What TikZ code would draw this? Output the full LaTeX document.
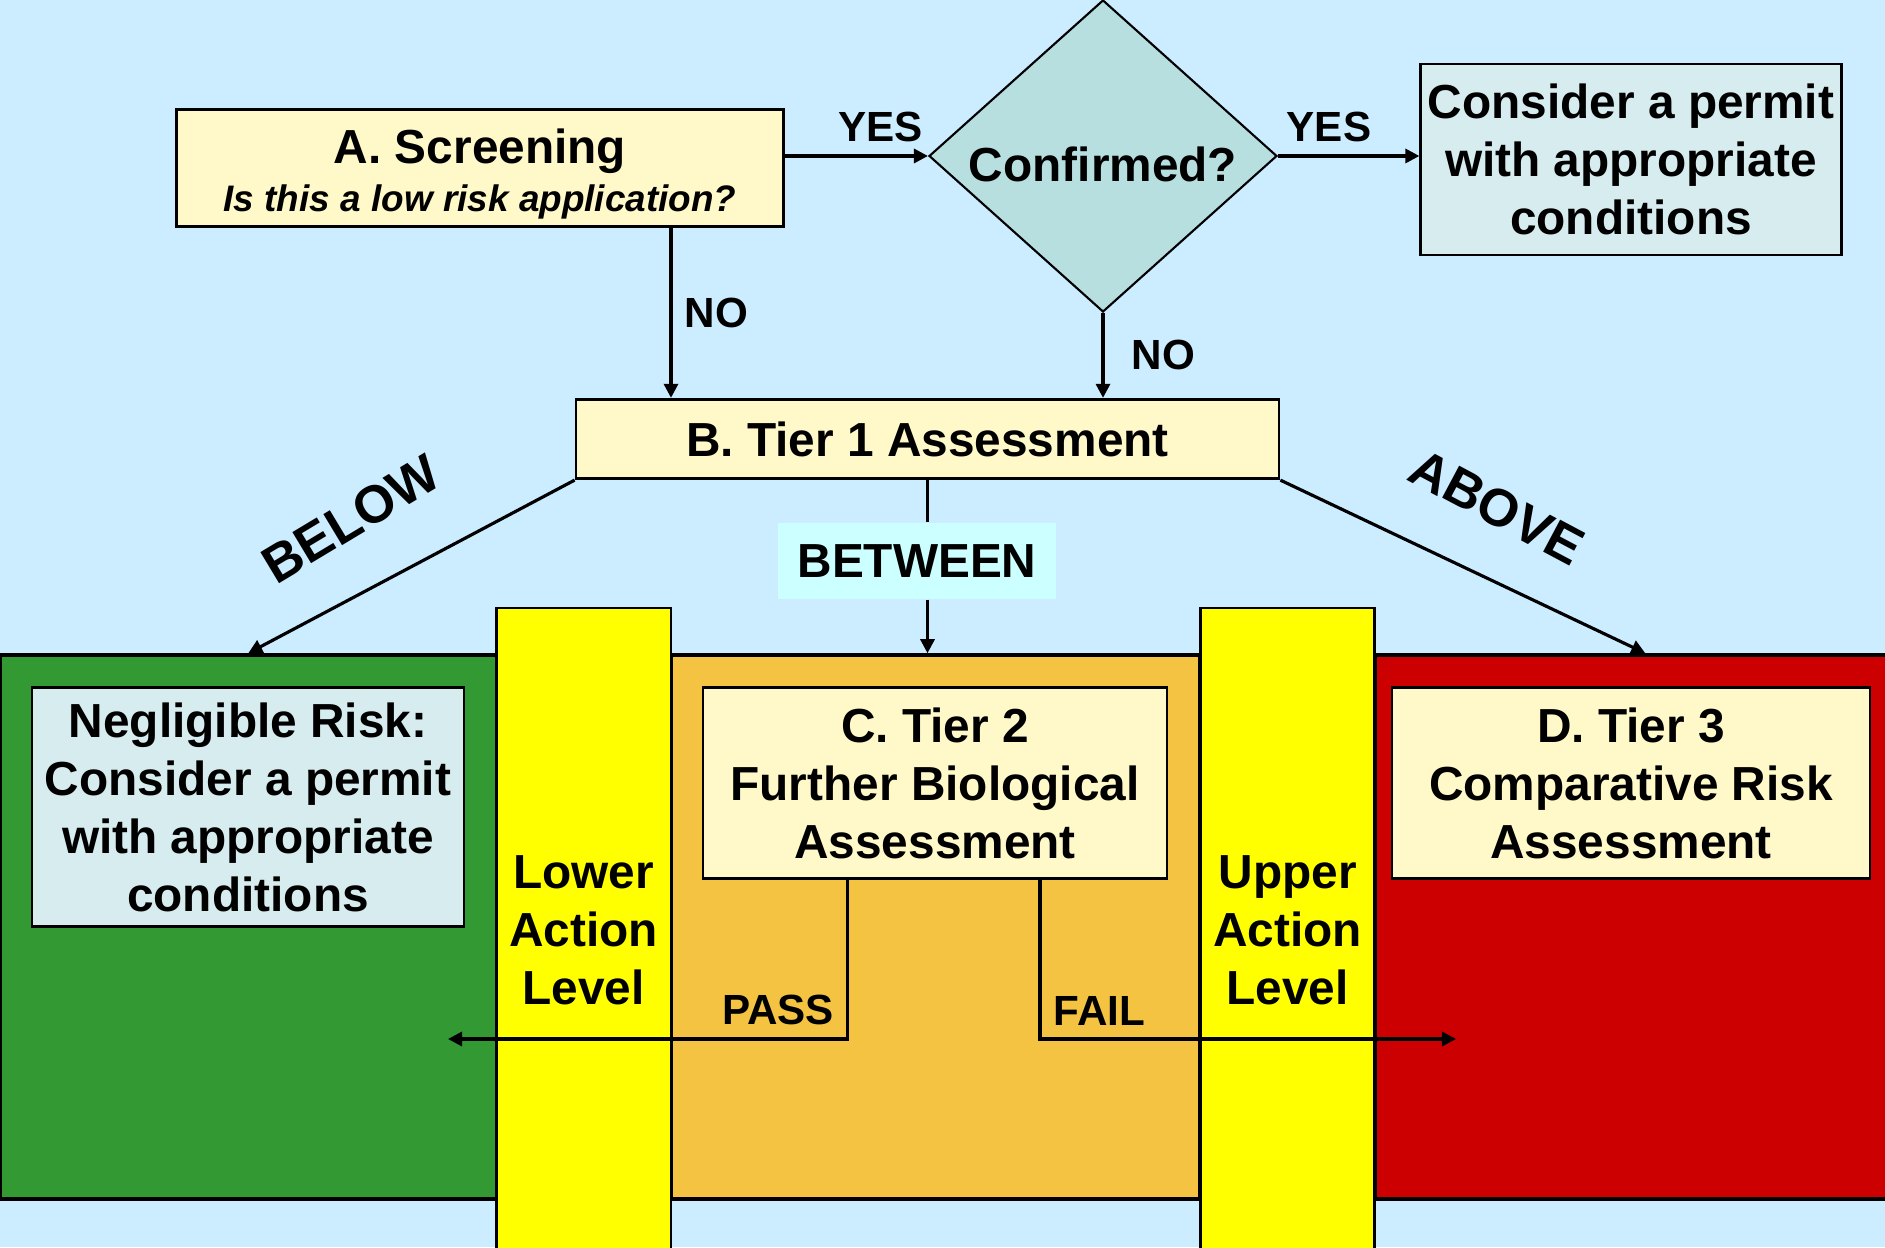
\documentclass[tikz,border=0pt]{standalone}
\usepackage{fontspec}
\setmainfont{Liberation Sans}
\usepackage{tikz}
\usetikzlibrary{positioning, shapes.geometric, arrows.meta}
\usepackage{xcolor}
\definecolor{skybg}{RGB}{204, 236, 255}
\definecolor{paleyellow}{RGB}{255, 248, 200}
\definecolor{paleteal}{RGB}{214, 236, 238}
\definecolor{diamondteal}{RGB}{184, 223, 224}
\definecolor{betweencyan}{RGB}{204, 255, 255}
\definecolor{lowgreen}{RGB}{51, 153, 51}
\definecolor{midorange}{RGB}{245, 195, 66}
\definecolor{highred}{RGB}{204, 0, 0}
\definecolor{levelyellow}{RGB}{255, 255, 0}
\newcommand{\boxfont}{\fontsize{13.6pt}{16.5pt}\selectfont\bfseries}
\newcommand{\edgefont}{\fontsize{12pt}{14pt}\selectfont\bfseries}
\newcommand{\slopefont}{\fontsize{15pt}{18pt}\selectfont\bfseries}
\newcommand{\subfont}{\fontsize{10.5pt}{12.6pt}\selectfont\bfseries\itshape}

\begin{document}
\begin{tikzpicture}[
    box/.style={draw=black, line width=0.8pt, fill=paleyellow, align=center, font=\boxfont, inner sep=2pt},
    permitbox/.style={box, fill=paleteal},
    zone/.style={draw=black, line width=1pt, minimum height=5.44cm, inner sep=0pt},
    levelbar/.style={draw=black, line width=0.7pt, fill=levelyellow, minimum width=1.743cm, minimum height=6.44cm, align=center, font=\boxfont, inner sep=0pt},
    flow/.style={line width=0.9pt, -{Triangle[length=4pt, width=4pt]}},
    edgelbl/.style={font=\edgefont, inner sep=3.5pt}
  ]
        \useasboundingbox (0,0) rectangle (18.85,12.47);
        \fill[skybg] (0,0) rectangle (18.85,12.47);

        % ---- RISK ZONES ----
        \node[zone, fill=lowgreen, minimum width=4.965cm] (lowzone) at (2.4825,3.20) {};
        \node[zone, fill=midorange, minimum width=5.29cm] (midzone) at (9.353,3.20) {};
        \node[zone, fill=highred, minimum width=5.4cm] (highzone) at (16.453,3.20) {};

        % Action level bars
        \node[levelbar] (lowerlvl) at (5.8365,3.17) {Lower\\Action\\Level};
        \node[levelbar] (upperlvl) at (12.8755,3.17) {Upper\\Action\\Level};

        % Boxes inside the zones
        \node[permitbox, minimum width=4.32cm, minimum height=2.39cm] (negligible) at (2.48,4.40) {Negligible Risk:\\Consider a permit\\with appropriate\\conditions};
        \node[box, minimum width=4.64cm, minimum height=1.91cm] (tier2) at (9.35,4.64) {C. Tier 2\\Further Biological\\Assessment};
        \node[box, minimum width=4.78cm, minimum height=1.91cm] (tier3) at (16.31,4.64) {D. Tier 3\\Comparative Risk\\Assessment};

        % ---- SCREENING ----
        \node[box, minimum width=6.07cm, minimum height=1.12cm] (screen) at (4.80,10.79) {\rule{0pt}{13.4pt}A. Screening\\[-3pt]{\subfont Is this a low risk application?}};
        \node[diamond, draw=black, line width=0.6pt, fill=diamondteal, aspect=1.1, inner sep=0pt, minimum width=3.48cm, minimum height=3.12cm, font=\boxfont] (confirm) at (11.03,10.91) {\raisebox{-2.4pt}[\height][\depth]{Confirmed?}};
        \node[permitbox, minimum width=4.16cm, minimum height=1.91cm] (permit) at (16.31,10.875) {Consider a permit\\with appropriate\\conditions};

        % ---- TIER 1 ----
        \node[box, minimum width=7.03cm, minimum height=0.795cm] (tier1) at (9.275,8.08) {B. Tier 1 Assessment};

        % Top connectors
        \draw[flow] (screen.east |- confirm.west) -- node[edgelbl, above, pos=0.67] {YES} (confirm.west);
        \draw[flow] (confirm.east) -- node[edgelbl, above, pos=0.36] {YES} (confirm.east -| permit.west);
        \draw[flow] ([xshift=1.91cm]screen.south) -- node[edgelbl, right] {NO} ([xshift=1.91cm]screen.south |- tier1.north);
        \draw[flow] (confirm.south) -- node[edgelbl, right, xshift=0.15cm] {NO} (confirm.south |- tier1.north);

        % Tier 1 outcomes
        \node[fill=betweencyan, minimum width=2.78cm, minimum height=0.76cm, font=\boxfont] (between) at (9.17,6.86) {BETWEEN};
        \draw[line width=0.9pt] (tier1.south) -- (tier1.south |- between.north);
        \draw[flow] (tier1.south |- between.south) -- (tier1.south |- midzone.north);
        \draw[flow] (tier1.south west) -- (lowzone.north);
        \draw[flow] (tier1.south east) -- (highzone.north);
        \node[font=\slopefont, rotate=31] (belowlbl) at (3.51,7.28) {BELOW};
        \node[font=\slopefont, rotate=-28] (abovelbl) at (14.97,7.40) {ABOVE};

        % Tier 2 outcomes
        \coordinate (passend) at (4.48,2.08);
        \coordinate (failend) at (14.56,2.08);
        \draw[flow] ([xshift=-0.874cm]tier2.south) |- node[edgelbl, above left, pos=0.5] {PASS} (passend);
        \draw[flow] ([xshift=1.05cm]tier2.south) |- node[edgelbl, above right, pos=0.5] {FAIL} (failend);
      \end{tikzpicture}
\end{document}
